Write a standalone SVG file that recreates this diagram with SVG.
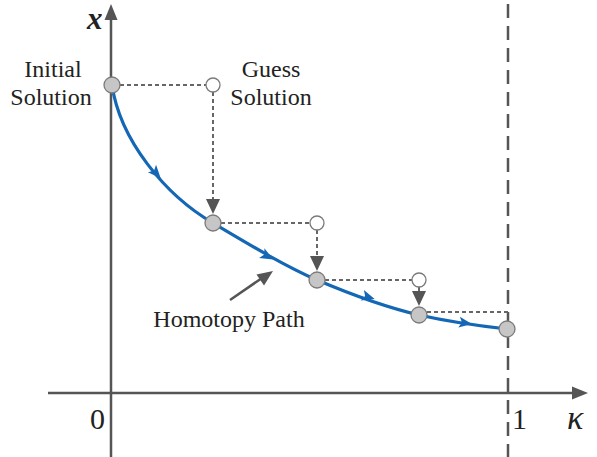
<svg xmlns="http://www.w3.org/2000/svg" width="597" height="457" viewBox="0 0 597 457">
<style>
.txt{fill:#222;font-family:'Liberation Serif','Times New Roman',Times,'DejaVu Serif',serif;}
.lbl{font-size:24px;}
.axis{stroke:#555;stroke-width:2.5;fill:none;}
.dash{stroke:#666;stroke-width:2;stroke-dasharray:4 3;fill:none;}
.sol{fill:#c6c6c6;stroke:#7a7a7a;stroke-width:1.3;}
.guess{fill:#fff;stroke:#7a7a7a;stroke-width:1.3;}
.ah{fill:#555;}
.bah{fill:#1467b5;}
</style>
<rect width="597" height="457" fill="#fff"/>
<g id="axes">
<line class="axis" x1="111" y1="457" x2="111" y2="18"/>
<polygon class="ah" points="111,4 104.5,20 117.5,20"/>
<line class="axis" x1="48" y1="393" x2="575" y2="393"/>
<polygon class="ah" points="588,393 572,386.5 572,399.5"/>
<line x1="508" y1="4" x2="508" y2="457" stroke="#555" stroke-width="2.5" stroke-dasharray="14 8"/>
<text class="txt" x="87" y="29" font-size="31" font-weight="bold" font-style="italic">x</text>
<text class="txt" x="567" y="429" font-size="34" font-style="italic">κ</text>
<text class="txt" x="90" y="429" font-size="30">0</text>
<text class="txt" x="512" y="429" font-size="30">1</text>
</g>
<g id="connectors">
<path d="M112,85 C120,140 165,195 213,223 C250,245 285,266 317,280 C350,294 385,307 419,315 C450,322 480,326 507,329" fill="none" stroke="#1467b5" stroke-width="3.2"/>
<path class="bah" transform="translate(156,173) rotate(48)" d="M7,0 L-6,-5.5 L-3,0 L-6,5.5 Z"/>
<path class="bah" transform="translate(267,256) rotate(29)" d="M7,0 L-6,-5.5 L-3,0 L-6,5.5 Z"/>
<path class="bah" transform="translate(368,297) rotate(17)" d="M7,0 L-6,-5.5 L-3,0 L-6,5.5 Z"/>
<path class="bah" transform="translate(465,323) rotate(8)" d="M7,0 L-6,-5.5 L-3,0 L-6,5.5 Z"/>
<line class="dash" x1="120" y1="85" x2="206" y2="85"/>
<line class="dash" x1="213" y1="92" x2="213" y2="200"/>
<polygon class="ah" points="213,214 206,199 220,199"/>
<line class="dash" x1="221" y1="223" x2="310" y2="223"/>
<line class="dash" x1="317" y1="230" x2="317" y2="256"/>
<polygon class="ah" points="317,271 310,256 324,256"/>
<line class="dash" x1="325" y1="280" x2="412" y2="280"/>
<line class="dash" x1="419" y1="287" x2="419" y2="292"/>
<polygon class="ah" points="419,306 412,291 426,291"/>
<line class="dash" x1="427" y1="312" x2="508" y2="312"/>
<line x1="230" y1="300" x2="262" y2="278" stroke="#555" stroke-width="2.5"/>
<polygon class="ah" points="273,271 256.5,274.5 264,285.5"/>
</g>
<g id="n-initial"><circle class="sol" cx="112" cy="85" r="8"/>
<text class="txt lbl" x="53" y="77" text-anchor="middle">Initial</text>
<text class="txt lbl" x="51" y="105" text-anchor="middle">Solution</text></g>
<g id="n-guess1"><circle class="guess" cx="213" cy="85" r="7"/>
<text class="txt lbl" x="271" y="77" text-anchor="middle">Guess</text>
<text class="txt lbl" x="271" y="105" text-anchor="middle">Solution</text></g>
<g id="n-sol2"><circle class="sol" cx="213" cy="223" r="8"/></g>
<g id="n-guess2"><circle class="guess" cx="317" cy="223" r="7"/></g>
<g id="n-sol3"><circle class="sol" cx="317" cy="280" r="8"/></g>
<g id="n-guess3"><circle class="guess" cx="419" cy="280" r="7"/></g>
<g id="n-sol4"><circle class="sol" cx="419" cy="315" r="8"/></g>
<g id="n-end"><circle class="sol" cx="507" cy="329" r="8"/></g>
<g id="n-label"><text class="txt lbl" x="229" y="327" text-anchor="middle">Homotopy Path</text></g>
</svg>
